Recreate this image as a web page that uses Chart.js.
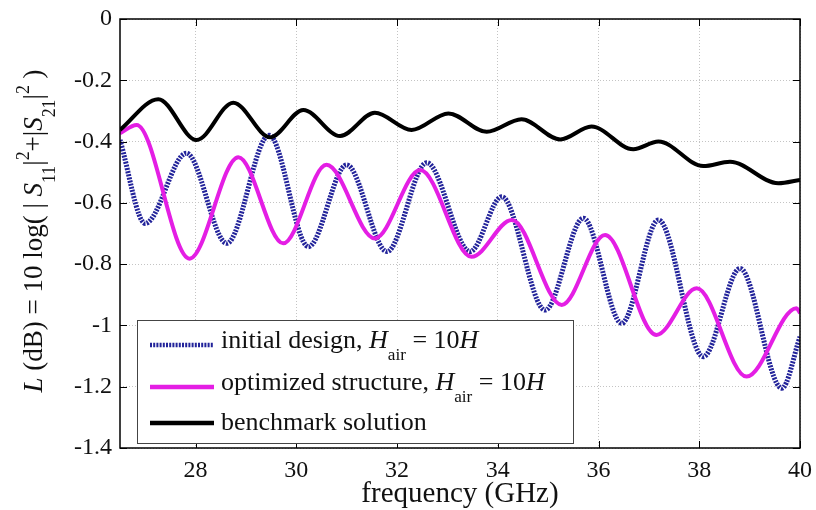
<!DOCTYPE html>
<html>
<head>
<meta charset="utf-8">
<script src="https://cdn.jsdelivr.net/npm/chart.js@4/dist/chart.umd.min.js"></script>
<style>
  html, body { margin: 0; padding: 0; background: #fff; }
  #wrap { width: 816px; height: 510px; }
</style>
</head>
<body>
<div id="wrap"><canvas id="chart" width="816" height="510"></canvas></div>
<script>
// values (peaks and troughs)
var freqInitial = [26.5, 27.0, 27.82, 28.62, 29.46, 30.24, 31.0, 31.8, 32.59, 33.45, 34.08, 34.94, 35.7, 36.46, 37.19, 38.08, 38.81, 39.64, 40.0];
var lossInitial = [-0.395, -0.667, -0.438, -0.732, -0.379, -0.743, -0.476, -0.759, -0.469, -0.759, -0.58, -0.95, -0.65, -0.993, -0.656, -1.102, -0.814, -1.205, -1.037];

var freqOptimized = [26.5, 26.83, 27.88, 28.85, 29.74, 30.6, 31.56, 32.46, 33.48, 34.28, 35.27, 36.13, 37.15, 37.95, 38.94, 39.93, 40.0];
var lossOptimized = [-0.373, -0.346, -0.782, -0.451, -0.732, -0.476, -0.716, -0.493, -0.776, -0.656, -0.933, -0.705, -1.031, -0.879, -1.167, -0.944, -0.96];

var freqBenchmark = [26.5, 27.26, 28.02, 28.75, 29.48, 30.14, 30.87, 31.56, 32.29, 33.02, 33.78, 34.47, 35.24, 35.86, 36.69, 37.19, 38.08, 38.61, 39.57, 40.0];
var lossBenchmark = [-0.362, -0.262, -0.395, -0.273, -0.386, -0.297, -0.382, -0.306, -0.362, -0.308, -0.368, -0.327, -0.393, -0.351, -0.425, -0.40, -0.48, -0.466, -0.536, -0.525];

var xTicks = [28, 30, 32, 34, 36, 38, 40];
var yTicks = [0, -0.2, -0.4, -0.6, -0.8, -1, -1.2, -1.4];

var serif = '"Liberation Serif", "Times New Roman", serif';
var blueCol = '#22239a';
var magentaCol = '#e41ee4';

function pts(xs, ys) {
  var out = [];
  for (var i = 0; i < xs.length; i++) out.push({ x: xs[i], y: ys[i] });
  return out;
}

// draws a run of text pieces: {t, it, sub, sup}
function richText(ctx, parts, x, y, size) {
  var cx = x;
  parts.forEach(function (p) {
    var fs = (p.sub || p.sup) ? size * 0.66 : size;
    ctx.font = (p.it ? 'italic ' : '') + fs + 'px ' + serif;
    var dy = p.sub ? size * 0.55 : (p.sup ? -size * 0.4 : 0);
    ctx.fillText(p.t, cx, y + dy);
    cx += ctx.measureText(p.t).width;
  });
  return cx - x;
}
function richWidth(ctx, parts, size) {
  var w = 0;
  parts.forEach(function (p) {
    var fs = (p.sub || p.sup) ? size * 0.66 : size;
    ctx.font = (p.it ? 'italic ' : '') + fs + 'px ' + serif;
    w += ctx.measureText(p.t).width;
  });
  return w;
}

var legendRows = [
  { color: blueCol, dash: [2, 1.2], width: 4.5, parts: [{ t: 'initial design, ' }, { t: 'H', it: true }, { t: 'air', sub: true }, { t: ' = 10' }, { t: 'H', it: true }] },
  { color: magentaCol, dash: [], width: 4.5, parts: [{ t: 'optimized structure, ' }, { t: 'H', it: true }, { t: 'air', sub: true }, { t: ' = 10' }, { t: 'H', it: true }] },
  { color: '#000', dash: [], width: 4.5, parts: [{ t: 'benchmark solution' }] }
];

var yTitle = [
  { t: 'L', it: true }, { t: ' (dB) = 10 log( | ' }, { t: 'S', it: true }, { t: '11', sub: true },
  { t: '|' }, { t: '2', sup: true }, { t: '+|' }, { t: 'S', it: true }, { t: '21', sub: true },
  { t: '|' }, { t: '2', sup: true }, { t: ' )' }
];

var decorPlugin = {
  id: 'decor',
  beforeDatasetsDraw: function (chart) {
    var ctx = chart.ctx, a = chart.chartArea;
    var xs = chart.scales.x, ys = chart.scales.y;
    ctx.save();
    ctx.strokeStyle = '#000';
    ctx.lineWidth = 1;
    // inward tick marks
    xTicks.forEach(function (v) {
      var px = Math.round(xs.getPixelForValue(v)) + 0.5;
      ctx.beginPath();
      ctx.moveTo(px, a.bottom); ctx.lineTo(px, a.bottom - 7);
      ctx.moveTo(px, a.top); ctx.lineTo(px, a.top + 7);
      ctx.stroke();
    });
    yTicks.forEach(function (v) {
      var py = Math.round(ys.getPixelForValue(v)) + 0.5;
      ctx.beginPath();
      ctx.moveTo(a.left, py); ctx.lineTo(a.left + 7, py);
      ctx.moveTo(a.right, py); ctx.lineTo(a.right - 7, py);
      ctx.stroke();
    });
    ctx.restore();
  },
  afterDatasetsDraw: function (chart) {
    var ctx = chart.ctx, a = chart.chartArea;
    ctx.save();
    // axes box
    ctx.strokeStyle = '#000';
    ctx.lineWidth = 1.5;
    ctx.strokeRect(a.left, a.top, a.right - a.left, a.bottom - a.top);

    // legend box
    var lx = 137, ly = 320, lw = 436, lh = 123;
    ctx.fillStyle = '#fff';
    ctx.fillRect(lx, ly, lw, lh);
    ctx.strokeStyle = '#444';
    ctx.lineWidth = 1;
    ctx.strokeRect(lx + 0.5, ly + 0.5, lw, lh);
    var lineY = [345, 387, 423];
    var textY = [341, 383, 423];
    legendRows.forEach(function (r, i) {
      ctx.beginPath();
      ctx.strokeStyle = r.color;
      ctx.lineWidth = r.width;
      ctx.setLineDash(r.dash);
      ctx.moveTo(150, lineY[i]); ctx.lineTo(214, lineY[i]);
      ctx.stroke();
      ctx.setLineDash([]);
      ctx.fillStyle = '#111';
      ctx.textBaseline = 'middle';
      ctx.textAlign = 'left';
      richText(ctx, r.parts, 221, textY[i], 26);
    });

    // x title
    ctx.fillStyle = '#111';
    ctx.textBaseline = 'middle';
    ctx.textAlign = 'center';
    ctx.font = '29px ' + serif;
    ctx.fillText('frequency (GHz)', 460, 494);

    // y title, rotated
    ctx.translate(35, 231);
    ctx.rotate(-Math.PI / 2);
    ctx.textAlign = 'left';
    var w = richWidth(ctx, yTitle, 27);
    richText(ctx, yTitle, -w / 2, 0, 27);
    ctx.restore();
  }
};

function noPad(s) {
  s.paddingLeft = 0; s.paddingRight = 0; s.paddingTop = 0; s.paddingBottom = 0;
}

var ctx = document.getElementById('chart').getContext('2d');
var chart = new Chart(ctx, {
  type: 'line',
  data: {
    datasets: [
      {
        label: 'benchmark solution',
        data: pts(freqBenchmark, lossBenchmark),
        borderColor: '#000',
        borderWidth: 4,
        order: 0
      },
      {
        label: 'optimized structure',
        data: pts(freqOptimized, lossOptimized),
        borderColor: magentaCol,
        borderWidth: 4,
        order: 1
      },
      {
        label: 'initial design',
        data: pts(freqInitial, lossInitial),
        borderColor: blueCol,
        borderWidth: 5,
        borderDash: [2, 1.2],
        order: 2
      }
    ]
  },
  options: {
    responsive: false,
    animation: false,
    elements: {
      point: { radius: 0 },
      line: { cubicInterpolationMode: 'monotone', fill: false }
    },
    layout: { autoPadding: false, padding: { top: 19, right: 16, left: 0, bottom: 0 } },
    plugins: {
      legend: { display: false },
      tooltip: { enabled: false }
    },
    scales: {
      x: {
        type: 'linear',
        min: 26.5,
        max: 40,
        afterBuildTicks: function (s) { s.ticks = xTicks.map(function (v) { return { value: v }; }); },
        afterFit: function (s) { s.height = 62; noPad(s); },
        grid: { color: '#c4c4c4', lineWidth: 1, drawTicks: false },
        border: { display: false, dash: [1, 2] },
        ticks: { color: '#111', padding: 8, maxRotation: 0, font: { family: serif, size: 24 } }
      },
      y: {
        type: 'linear',
        min: -1.4,
        max: 0,
        afterBuildTicks: function (s) { s.ticks = yTicks.map(function (v) { return { value: v }; }); },
        afterFit: function (s) { s.width = 120; noPad(s); },
        grid: { color: '#c4c4c4', lineWidth: 1, drawTicks: false },
        border: { display: false, dash: [1, 2] },
        ticks: {
          color: '#111', padding: 8, font: { family: serif, size: 24 },
          callback: function (v) { return String(Number(v.toFixed(1))); }
        }
      }
    }
  },
  plugins: [decorPlugin]
});
</script>
</body>
</html>
